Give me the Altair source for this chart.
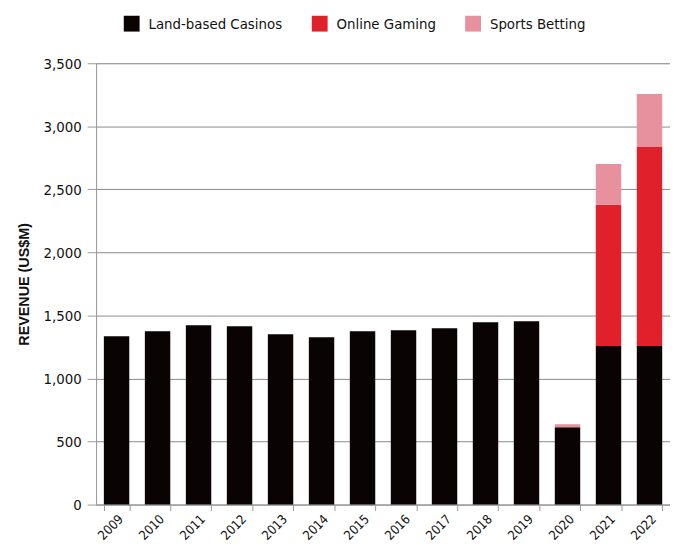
import altair as alt
import pandas as pd

years = ["2009", "2010", "2011", "2012", "2013", "2014", "2015", "2016",
         "2017", "2018", "2019", "2020", "2021", "2022"]
land = [1335, 1375, 1422, 1414, 1351, 1327, 1375, 1383, 1398, 1446, 1453, 614, 1257, 1257]
online = [0, 0, 0, 0, 0, 0, 0, 0, 0, 0, 0, 0, 1120, 1579]
sports = [0, 0, 0, 0, 0, 0, 0, 0, 0, 0, 0, 24, 323, 421]
series = ["Land-based Casinos", "Online Gaming", "Sports Betting"]
colors = ["#0a0304", "#e0202a", "#e8919e"]

rows = []
for i, y in enumerate(years):
    for k, (name, vals) in enumerate(zip(series, [land, online, sports])):
        rows.append({"year": y, "segment": name, "value": vals[i], "ord": k})
df = pd.DataFrame(rows)

FONT = "DejaVu Sans Condensed, Liberation Sans"

chart = alt.Chart(df).mark_bar().encode(
    x=alt.X("year:N", sort=years,
            scale=alt.Scale(paddingInner=0.38, paddingOuter=0.19),
            axis=alt.Axis(title=None, labelAngle=-45, labelFontSize=13,
                          labelFont=FONT, labelColor="#111", tickBand="extent",
                          tickSize=6, tickColor="#999", domainColor="#999",
                          labelPadding=2, grid=False)),
    y=alt.Y("value:Q", stack="zero",
            scale=alt.Scale(domain=[0, 3500]),
            axis=alt.Axis(title="REVENUE (US$M)", values=list(range(0, 3501, 500)),
                          format=",d", labelFontSize=15, labelFont=FONT,
                          labelColor="#111", tickSize=9, tickColor="#999",
                          domainColor="#999", labelPadding=6,
                          gridColor="#8a8a8a", gridWidth=1,
                          titleFont="Liberation Sans", titleFontSize=14.5,
                          titleFontWeight="bold", titleColor="#111",
                          titlePadding=12)),
    color=alt.Color("segment:N", sort=series,
                    scale=alt.Scale(domain=series, range=colors),
                    legend=alt.Legend(title=None, orient="none", direction="horizontal",
                                      legendX=28, legendY=-48,
                                      symbolType="square", symbolSize=256,
                                      symbolStrokeWidth=0, symbolOpacity=1,
                                      labelFont=FONT, labelFontSize=15,
                                      labelColor="#111", labelOffset=9,
                                      columnPadding=29)),
    order=alt.Order("ord:Q", sort="ascending"),
).properties(
    width=580, height=446,
    autosize=alt.AutoSizeParams(type="none"),
    padding={"left": 89, "top": 53, "right": 0, "bottom": 36},
).configure_view(stroke=None).configure(background="white")

chart.save("out.html", embed_options={"renderer": "svg", "actions": False})
